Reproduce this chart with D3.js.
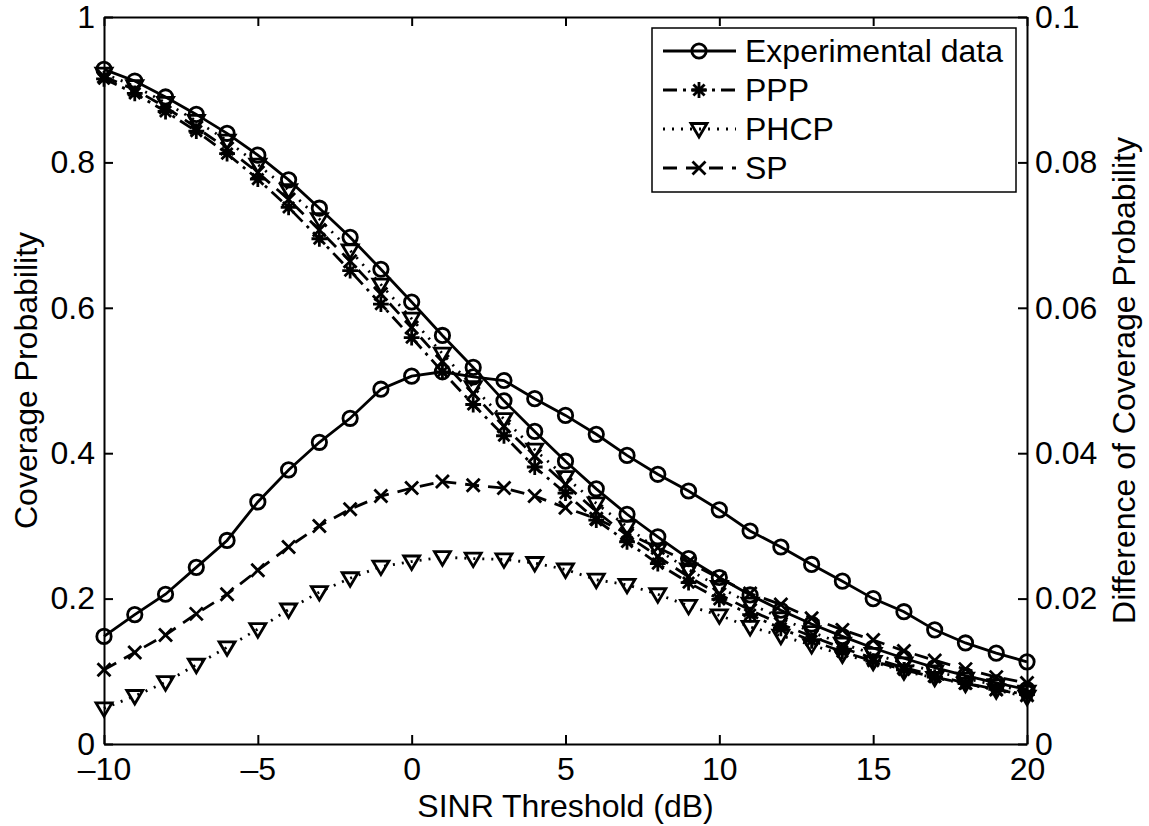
<!DOCTYPE html>
<html>
<head>
<meta charset="utf-8">
<script src="https://cdn.jsdelivr.net/npm/d3@7"></script>
<style>
  body { margin: 0; background: #fff; }
  text { font-family: "Liberation Sans", Arial, Helvetica, sans-serif; fill: #000; }
</style>
</head>
<body>
<div id="chart"></div>
<script>
// SINR threshold values (dB)
var sinr = [-10, -9, -8, -7, -6, -5, -4, -3, -2, -1, 0, 1, 2, 3, 4, 5, 6, 7, 8, 9, 10, 11, 12, 13, 14, 15, 16, 17, 18, 19, 20];

// coverage probability (left axis)
var experimental = [0.928, 0.912, 0.890, 0.866, 0.840, 0.810, 0.776, 0.737, 0.697, 0.653, 0.608, 0.562, 0.518, 0.472, 0.430, 0.389, 0.351, 0.316, 0.285, 0.255, 0.229, 0.205, 0.184, 0.165, 0.148, 0.132, 0.118, 0.105, 0.094, 0.084, 0.075];
var ppp = [0.915, 0.895, 0.870, 0.843, 0.812, 0.777, 0.738, 0.695, 0.651, 0.605, 0.559, 0.512, 0.467, 0.424, 0.381, 0.345, 0.308, 0.278, 0.248, 0.222, 0.199, 0.178, 0.159, 0.142, 0.127, 0.114, 0.102, 0.092, 0.083, 0.075, 0.068];
var phcp = [0.922, 0.905, 0.882, 0.857, 0.830, 0.797, 0.762, 0.722, 0.679, 0.632, 0.585, 0.537, 0.491, 0.447, 0.405, 0.367, 0.331, 0.299, 0.267, 0.240, 0.216, 0.193, 0.173, 0.154, 0.138, 0.124, 0.111, 0.100, 0.090, 0.081, 0.072];
var sp = [0.918, 0.900, 0.876, 0.848, 0.819, 0.786, 0.749, 0.707, 0.664, 0.619, 0.573, 0.526, 0.482, 0.437, 0.396, 0.357, 0.320, 0.287, 0.258, 0.230, 0.206, 0.184, 0.165, 0.148, 0.132, 0.118, 0.105, 0.094, 0.084, 0.075, 0.067];

// difference of coverage probability (right axis)
var diffPPP = [0.0148, 0.0178, 0.0206, 0.0243, 0.0280, 0.0333, 0.0377, 0.0415, 0.0448, 0.0488, 0.0506, 0.0512, 0.0505, 0.0500, 0.0475, 0.0452, 0.0426, 0.0397, 0.0371, 0.0348, 0.0322, 0.0293, 0.0271, 0.0247, 0.0224, 0.0200, 0.0182, 0.0157, 0.0139, 0.0125, 0.0113];
var diffSP = [0.0102, 0.0126, 0.0150, 0.0179, 0.0206, 0.0239, 0.0271, 0.0300, 0.0323, 0.0341, 0.0352, 0.0361, 0.0356, 0.0352, 0.0341, 0.0325, 0.0310, 0.0290, 0.0270, 0.0250, 0.0228, 0.0207, 0.0192, 0.0173, 0.0157, 0.0143, 0.0128, 0.0115, 0.0103, 0.0092, 0.0084];
var diffPHCP = [0.0049, 0.0066, 0.0085, 0.0109, 0.0133, 0.0158, 0.0185, 0.0209, 0.0228, 0.0244, 0.0251, 0.0257, 0.0255, 0.0254, 0.0249, 0.0240, 0.0226, 0.0219, 0.0206, 0.0190, 0.0177, 0.0161, 0.0149, 0.0136, 0.0123, 0.0113, 0.0100, 0.0091, 0.0083, 0.0074, 0.0065];

var xTicks = [-10, -5, 0, 5, 10, 15, 20];
var yLeftTicks = [0, 0.2, 0.4, 0.6, 0.8, 1];
var yRightTicks = [0, 0.02, 0.04, 0.06, 0.08, 0.1];
var legendNames = ["Experimental data", "PPP", "PHCP", "SP"];

var w = 1149;
var h = 826;
// plot box (note: "top" is taken by window.top, so use other names)
var plotLeft = 104, plotRight = 1027, plotTop = 17, plotBottom = 744;
var fontSize = 32;
var lw = 2.8;

var svg = d3.select("#chart").append("svg").attr("width", w).attr("height", h);

var xScale = d3.scaleLinear().domain([-10, 20]).range([plotLeft, plotRight]);
var yLeft = d3.scaleLinear().domain([0, 1]).range([plotBottom, plotTop]);
var yRight = d3.scaleLinear().domain([0, 0.1]).range([plotBottom, plotTop]);

// line styles, one per curve
var styles = {
    solid: null,
    dashdot: "14,6,3,6",
    dotted: "2,7",
    dashed: "14,9"
};

// marker shapes drawn around (0,0)
function markerPath(type) {
    if (type == "asterisk") {
        var a = 6.5, b = 4.6;
        return "M" + (-a) + ",0L" + a + ",0M0," + (-a) + "L0," + a +
            "M" + (-b) + "," + (-b) + "L" + b + "," + b + "M" + (-b) + "," + b + "L" + b + "," + (-b);
    }
    if (type == "x") {
        var c = 5.5;
        return "M" + (-c) + "," + (-c) + "L" + c + "," + c + "M" + (-c) + "," + c + "L" + c + "," + (-c);
    }
    if (type == "triangle") {
        return "M-8,-5.5L8,-5.5L0,8Z";
    }
    return null;
}

function drawMarker(g, type, cx, cy) {
    if (type == "circle") {
        g.append("circle").attr("cx", cx).attr("cy", cy).attr("r", 7.2)
            .attr("fill", "none").attr("stroke", "black").attr("stroke-width", lw);
    } else {
        g.append("path").attr("d", markerPath(type))
            .attr("transform", "translate(" + cx + "," + cy + ")")
            .attr("fill", "none").attr("stroke", "black").attr("stroke-width", lw)
            .attr("stroke-linecap", "square");
    }
}

function drawSeries(values, scale, dash, marker) {
    var g = svg.append("g");
    var line = d3.line()
        .x(function(d, i) { return xScale(sinr[i]); })
        .y(function(d) { return scale(d); });
    g.append("path").datum(values).attr("d", line)
        .attr("fill", "none").attr("stroke", "black").attr("stroke-width", lw)
        .attr("stroke-dasharray", dash);
    values.forEach(function(v, i) {
        drawMarker(g, marker, xScale(sinr[i]), scale(v));
    });
}

// left axis curves
drawSeries(experimental, yLeft, styles.solid, "circle");
drawSeries(ppp, yLeft, styles.dashdot, "asterisk");
drawSeries(phcp, yLeft, styles.dotted, "triangle");
drawSeries(sp, yLeft, styles.dashed, "x");
// right axis curves
drawSeries(diffPPP, yRight, styles.solid, "circle");
drawSeries(diffSP, yRight, styles.dashed, "x");
drawSeries(diffPHCP, yRight, styles.dotted, "triangle");

// axes, ticks pointing inside
function fmt(d) {
    return d < 0 ? "\u2013" + Math.abs(d) : String(d);
}
var xAxis = d3.axisBottom(xScale).tickValues(xTicks).tickFormat(fmt).tickSize(-9).tickSizeOuter(0).tickPadding(13);
var xAxisTop = d3.axisTop(xScale).tickValues(xTicks).tickFormat("").tickSize(-9).tickSizeOuter(0);
var yAxisLeft = d3.axisLeft(yLeft).tickValues(yLeftTicks).tickFormat(String).tickSize(-9).tickSizeOuter(0).tickPadding(9);
var yAxisRight = d3.axisRight(yRight).tickValues(yRightTicks).tickFormat(String).tickSize(-9).tickSizeOuter(0).tickPadding(8);

svg.append("g").attr("class", "axis").attr("transform", "translate(0," + plotBottom + ")").call(xAxis);
svg.append("g").attr("class", "axis").attr("transform", "translate(0," + plotTop + ")").call(xAxisTop);
svg.append("g").attr("class", "axis").attr("transform", "translate(" + plotLeft + ",0)").call(yAxisLeft);
svg.append("g").attr("class", "axis").attr("transform", "translate(" + plotRight + ",0)").call(yAxisRight);

svg.selectAll(".axis").attr("font-size", fontSize).attr("font-family", null);
svg.selectAll(".axis path").attr("stroke-width", 2);
svg.selectAll(".axis line").attr("stroke-width", 2);
svg.selectAll(".axis text").attr("fill", "black");

// axis titles
svg.append("text").attr("text-anchor", "middle")
    .attr("x", (plotLeft + plotRight) / 2).attr("y", 817)
    .style("font-size", fontSize + "px").text("SINR Threshold (dB)");
svg.append("text").attr("text-anchor", "middle")
    .attr("transform", "translate(37," + (plotTop + plotBottom) / 2 + ") rotate(-90)")
    .style("font-size", fontSize + "px").text("Coverage Probability");
svg.append("text").attr("text-anchor", "middle")
    .attr("transform", "translate(1135," + (plotTop + plotBottom) / 2 + ") rotate(-90)")
    .style("font-size", fontSize + "px").text("Difference of Coverage Probability");

// legend
var legendStyles = [styles.solid, styles.dashdot, styles.dotted, styles.dashed];
var legendMarkers = ["circle", "asterisk", "triangle", "x"];
var legend = svg.append("g");
legend.append("rect").attr("x", 652).attr("y", 28).attr("width", 1016 - 652).attr("height", 192 - 28)
    .attr("fill", "white").attr("stroke", "black").attr("stroke-width", 1.5);
legendNames.forEach(function(name, i) {
    var yy = 51 + i * 39;
    legend.append("line").attr("x1", 663).attr("x2", 736).attr("y1", yy).attr("y2", yy)
        .attr("stroke", "black").attr("stroke-width", lw).attr("stroke-dasharray", legendStyles[i]);
    drawMarker(legend, legendMarkers[i], 699, yy);
    legend.append("text").attr("x", 745).attr("y", yy + 11)
        .style("font-size", fontSize + "px").text(name);
});
</script>
</body>
</html>
